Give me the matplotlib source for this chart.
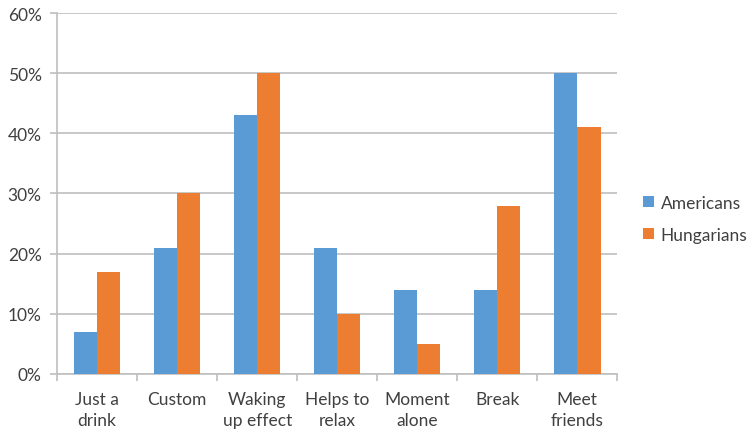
import numpy as np
import matplotlib
matplotlib.use("Agg")
import matplotlib.pyplot as plt
from matplotlib.ticker import PercentFormatter

plt.rcParams['font.family'] = ['Lato', 'DejaVu Sans']

categories = ["Just a\ndrink", "Custom", "Waking\nup effect", "Helps to\nrelax",
              "Moment\nalone", "Break", "Meet\nfriends"]
americans = [7, 21, 43, 21, 14, 14, 50]
hungarians = [17, 30, 50, 10, 5, 28, 41]

blue = "#5B9BD5"
orange = "#ED7D31"
grid_grey = "#BFBFBF"
text_grey = "#404040"
fs = 12.5

fig = plt.figure(figsize=(7.51, 4.31), dpi=100)
ax = fig.add_axes([0.076, 0.13, 0.746, 0.8375])

x = np.arange(len(categories))
w = 0.29
ax.bar(x - w / 2, americans, w, color=blue, label="Americans", zorder=3)
ax.bar(x + w / 2, hungarians, w, color=orange, label="Hungarians", zorder=3)

ax.set_xlim(-0.5, len(categories) - 0.5)
ax.set_ylim(0, 60)
ax.set_yticks(range(0, 61, 10))
ax.yaxis.set_major_formatter(PercentFormatter(decimals=0))
ax.grid(axis="y", color=grid_grey, linewidth=1.2, zorder=0)

# category labels centred, tick marks on the boundaries
ax.set_xticks(x)
ax.set_xticklabels(categories, fontsize=fs, color=text_grey, linespacing=1.45,
                   va="top")
ax.tick_params(axis="x", length=0, pad=12)
ax.set_xticks(np.arange(-0.5, len(categories)), minor=True)
ax.tick_params(axis="x", which="minor", length=5, color=grid_grey, width=1.2)
ax.tick_params(axis="y", length=5, color=grid_grey, width=1.2, labelsize=fs,
               labelcolor=text_grey, pad=6)

for side in ("top", "right"):
    ax.spines[side].set_visible(False)
for side in ("left", "bottom"):
    ax.spines[side].set_color(grid_grey)
    ax.spines[side].set_linewidth(1.2)

fig.legend(loc="center left", bbox_to_anchor=(0.836, 0.49), frameon=False,
           fontsize=fs, handlelength=0.6, handleheight=0.6, handletextpad=0.4,
           labelspacing=0.95, labelcolor=text_grey)

fig.savefig("out.png", dpi=100)
